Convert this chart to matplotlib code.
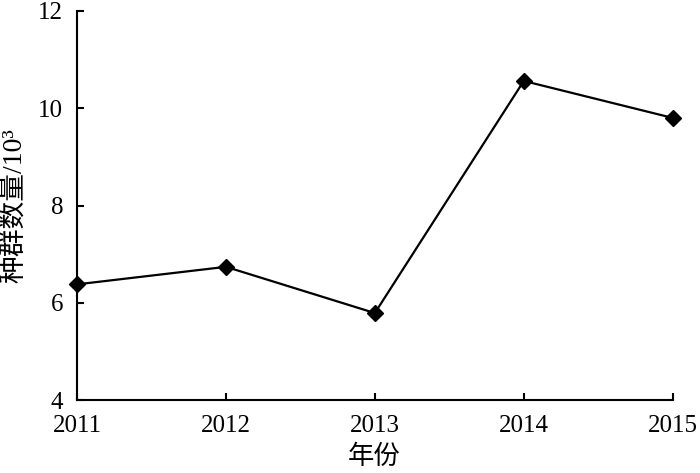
import matplotlib
matplotlib.use("Agg")
import matplotlib.pyplot as plt

years = [2011, 2012, 2013, 2014, 2015]
population = [6.38, 6.74, 5.79, 10.56, 9.80]
y_ticks = [4, 6, 8, 10, 12]
x_label = "年份"
y_label = "种群数量/10³"

plt.rcParams['font.family'] = ['Liberation Serif', 'Noto Sans CJK SC']

fig = plt.figure(figsize=(7.0, 4.73), dpi=100)
ax = fig.add_axes([0.110, 0.154, 0.851, 0.823])

ax.plot(years, population, color='black', linewidth=1.6, marker='D',
        markersize=8.5, markerfacecolor='black', clip_on=False, zorder=3)

ax.set_xlim(2011, 2015)
ax.set_ylim(4, 12)
ax.set_xticks(years)
ax.set_xticklabels([str(y) for y in years])
ax.set_yticks(y_ticks)
ax.set_yticklabels([str(v) for v in y_ticks])

for s in ['top', 'right']:
    ax.spines[s].set_visible(False)
for s in ['left', 'bottom']:
    ax.spines[s].set_linewidth(1.5)

ax.tick_params(direction='in', length=5, width=1.5, labelsize=18)
ax.tick_params(axis='x', pad=11)
ax.tick_params(axis='y', pad=10)

fig.text(374 / 700, 1 - 456 / 473, x_label, fontsize=19,
         family=['Noto Sans CJK SC', 'Liberation Serif'], ha='center', va='center')
fig.text(14 / 700, 1 - 206 / 473, y_label, fontsize=20, rotation=90,
         family=['Liberation Serif', 'Noto Sans CJK SC'], ha='center', va='center')

fig.savefig("out.png", dpi=100)
